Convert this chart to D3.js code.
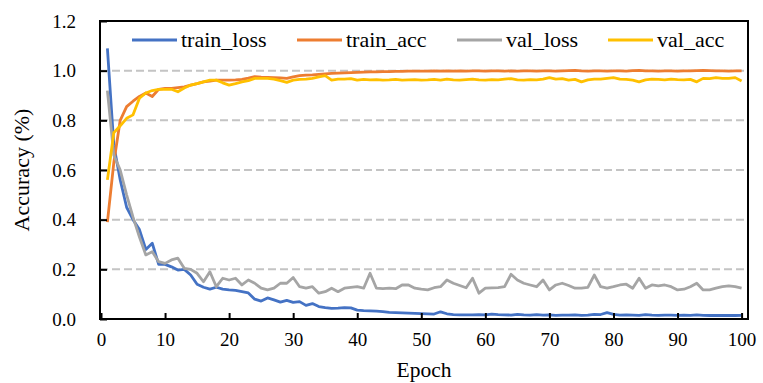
<!DOCTYPE html>
<html>
<head>
<meta charset="utf-8">
<script src="https://cdn.jsdelivr.net/npm/d3@7"></script>
<style>
  body { margin: 0; background: #fff; }
  text { font-family: "Liberation Serif", "Times New Roman", serif; fill: #000; }
</style>
</head>
<body>
<figure id="chart" style="margin:0"></figure>
<script>
const epochs = d3.range(1, 101);

const trainLoss = [1.09,0.70,0.56,0.45,0.40,0.36,0.28,0.305,0.22,0.22,
  0.21,0.197,0.20,0.177,0.14,0.128,0.12,0.128,0.12,0.117,
  0.115,0.11,0.105,0.08,0.072,0.085,0.077,0.068,0.075,0.067,
  0.07,0.055,0.062,0.05,0.046,0.043,0.044,0.046,0.045,0.036,
  0.034,0.033,0.032,0.03,0.027,0.026,0.025,0.024,0.023,0.022,
  0.021,0.02,0.029,0.021,0.018,0.017,0.017,0.017,0.018,0.017,
  0.02,0.018,0.017,0.016,0.019,0.017,0.016,0.018,0.016,0.017,
  0.015,0.016,0.016,0.017,0.015,0.016,0.019,0.018,0.026,0.019,
  0.016,0.017,0.016,0.015,0.018,0.016,0.015,0.016,0.016,0.015,
  0.016,0.015,0.017,0.015,0.014,0.015,0.014,0.015,0.014,0.015];

const trainAcc = [0.39,0.63,0.80,0.855,0.877,0.896,0.91,0.896,0.925,0.929,
  0.929,0.932,0.935,0.942,0.948,0.955,0.958,0.962,0.962,0.962,
  0.963,0.965,0.97,0.976,0.974,0.973,0.972,0.971,0.969,0.975,
  0.98,0.982,0.983,0.985,0.987,0.989,0.99,0.991,0.992,0.993,
  0.994,0.995,0.995,0.996,0.996,0.997,0.997,0.998,0.998,0.998,
  0.998,0.999,0.998,0.999,0.998,0.999,0.998,0.999,0.999,0.998,
  0.999,0.999,0.998,0.999,0.998,0.999,0.999,0.998,0.999,0.999,
  0.998,0.999,1.0,1.001,0.999,0.998,0.999,0.999,0.998,0.999,
  0.999,0.998,1.0,1.001,0.999,0.999,0.998,0.999,0.999,0.998,
  0.999,0.999,1.0,1.001,1.0,0.999,0.999,0.998,0.999,0.999];

const valLoss = [0.92,0.66,0.60,0.50,0.41,0.33,0.258,0.271,0.231,0.224,
  0.238,0.245,0.204,0.20,0.184,0.15,0.19,0.13,0.164,0.157,
  0.164,0.137,0.157,0.144,0.124,0.117,0.124,0.144,0.144,0.167,
  0.13,0.124,0.13,0.104,0.11,0.124,0.11,0.124,0.127,0.13,
  0.124,0.184,0.124,0.122,0.124,0.122,0.137,0.137,0.124,0.12,
  0.117,0.126,0.13,0.157,0.144,0.135,0.126,0.164,0.104,0.124,
  0.125,0.126,0.13,0.18,0.157,0.144,0.137,0.13,0.157,0.117,
  0.137,0.144,0.135,0.124,0.124,0.127,0.177,0.13,0.124,0.13,
  0.137,0.14,0.124,0.164,0.124,0.137,0.133,0.137,0.13,0.117,
  0.12,0.13,0.144,0.117,0.117,0.124,0.13,0.133,0.13,0.124];

const valAcc = [0.56,0.75,0.778,0.808,0.822,0.889,0.91,0.92,0.925,0.925,
  0.925,0.915,0.93,0.942,0.948,0.955,0.962,0.962,0.951,0.942,
  0.948,0.955,0.96,0.969,0.969,0.969,0.966,0.96,0.953,0.962,
  0.965,0.966,0.969,0.975,0.98,0.962,0.966,0.966,0.968,0.962,
  0.965,0.963,0.964,0.962,0.963,0.965,0.962,0.963,0.964,0.962,
  0.963,0.965,0.962,0.966,0.963,0.962,0.964,0.966,0.963,0.962,
  0.964,0.963,0.966,0.968,0.963,0.962,0.964,0.963,0.966,0.972,
  0.966,0.968,0.962,0.965,0.955,0.963,0.966,0.966,0.969,0.972,
  0.966,0.965,0.962,0.955,0.963,0.966,0.965,0.963,0.966,0.964,
  0.963,0.965,0.955,0.969,0.968,0.972,0.969,0.969,0.972,0.958];

const seriesNames = ["train_loss", "train_acc", "val_loss", "val_acc"];
const seriesColors = ["#4472C4", "#ED7D31", "#A5A5A5", "#FFC000"];
const xTicks = [0, 10, 20, 30, 40, 50, 60, 70, 80, 90, 100];
const yTicks = [0.0, 0.2, 0.4, 0.6, 0.8, 1.0, 1.2];

const W = 763, H = 383;
const plot = { left: 100, right: 748, top: 21, bottom: 319 };

const svg = d3.select("#chart").append("svg")
  .attr("width", W).attr("height", H);

const x = d3.scaleLinear().domain([0, 101]).range([plot.left + 1, plot.right]);
const y = d3.scaleLinear().domain([0, 1.2]).range([plot.bottom, plot.top]);

// dashed gridlines
svg.append("g")
  .selectAll("line")
  .data(yTicks.filter(d => d > 0 && d < 1.2))
  .enter().append("line")
  .attr("x1", plot.left).attr("x2", plot.right)
  .attr("y1", d => y(d)).attr("y2", d => y(d))
  .attr("stroke", "#c4c4c4")
  .attr("stroke-width", 2)
  .attr("stroke-dasharray", "8,4");

// lines
const allSeries = [trainLoss, trainAcc, valLoss, valAcc];
const line = d3.line().x((d, i) => x(epochs[i])).y(d => y(d));
svg.append("g")
  .selectAll("path")
  .data(allSeries)
  .enter().append("path")
  .attr("d", d => line(d))
  .attr("fill", "none")
  .attr("stroke", (d, i) => seriesColors[i])
  .attr("stroke-width", 2.8)
  .attr("stroke-linejoin", "round");

// frame
svg.append("rect")
  .attr("x", plot.left).attr("y", plot.top)
  .attr("width", plot.right - plot.left).attr("height", plot.bottom - plot.top)
  .attr("fill", "none")
  .attr("stroke", "#000")
  .attr("stroke-width", 2);

// x axis (ticks pointing inward)
const xAxis = svg.append("g")
  .attr("transform", "translate(0," + plot.bottom + ")")
  .call(d3.axisBottom(x).tickValues(xTicks).tickSize(-6).tickPadding(14).tickFormat(d3.format("d")));
xAxis.select(".domain").remove();
xAxis.selectAll("line").attr("stroke-width", 2);
xAxis.selectAll("text").style("font-size", "19px").attr("font-family", null);

// y axis
const yAxis = svg.append("g")
  .attr("transform", "translate(" + plot.left + ",0)")
  .call(d3.axisLeft(y).tickValues(yTicks).tickSize(-7).tickPadding(24).tickFormat(d3.format(".1f")));
yAxis.select(".domain").remove();
yAxis.selectAll("line").attr("stroke-width", 2);
yAxis.selectAll("text").style("font-size", "19px").attr("font-family", null);

// axis titles
svg.append("text")
  .attr("x", 424).attr("y", 377)
  .attr("text-anchor", "middle")
  .style("font-size", "21.5px")
  .text("Epoch");

svg.append("text")
  .attr("transform", "translate(29,170) rotate(-90)")
  .attr("text-anchor", "middle")
  .style("font-size", "22px")
  .text("Accuracy (%)");

// legend
const legendX = [132, 297, 457, 608];
const legend = svg.append("g")
  .selectAll("g")
  .data(seriesNames)
  .enter().append("g")
  .attr("transform", (d, i) => "translate(" + legendX[i] + ",40)");
legend.append("line")
  .attr("x1", 0).attr("x2", 45)
  .attr("stroke", (d, i) => seriesColors[i])
  .attr("stroke-width", 2.8);
legend.append("text")
  .attr("x", 49).attr("y", 7)
  .style("font-size", "22px")
  .text(d => d);
</script>
</body>
</html>
